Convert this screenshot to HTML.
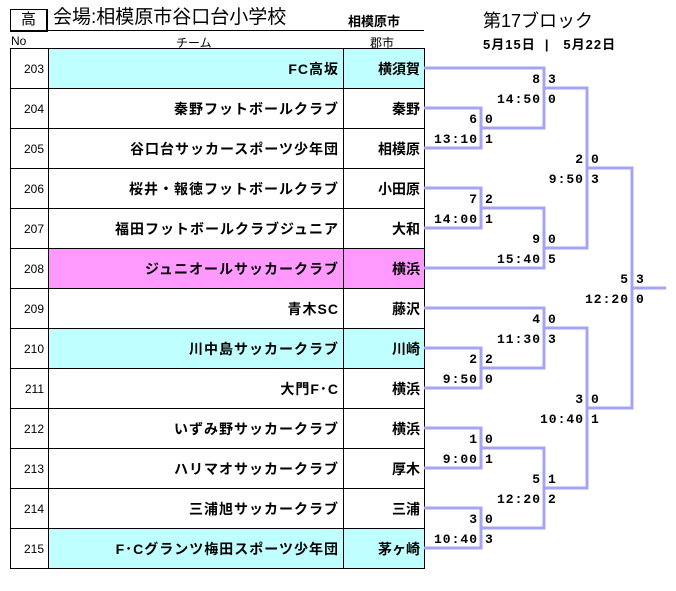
<!DOCTYPE html>
<html><head><meta charset="utf-8"><style>
body{margin:0;width:676px;height:591px;background:#fff;position:relative;overflow:hidden;font-family:"Liberation Sans","Noto Sans CJK JP",sans-serif;color:#000}
.a{position:absolute;white-space:nowrap}
table{position:absolute;left:10px;top:48px;border-collapse:collapse}
td{border:1px solid #000;height:39px;padding:0 4px;font-size:14px}
td.n{width:29px;text-align:right;font-size:12px}
td.t{width:286px;text-align:right;font-weight:bold;letter-spacing:1px}
td.c{width:72px;text-align:right;font-weight:bold}
.cy{background:#c0ffff}.pk{background:#ff99ff}
.s{position:absolute;font:bold 13px "Liberation Mono","Noto Sans CJK JP",monospace;letter-spacing:1px;white-space:nowrap;line-height:14px}
</style></head><body>
<div class="a" style="left:10px;top:9px;width:35px;height:20px;border:1px solid #000;border-width:1px 2px 2px 1px;text-align:center;font-size:15px;line-height:20px">高</div>
<div class="a" style="left:53px;top:7px;font-size:19px;line-height:22px">会場:相模原市谷口台小学校</div>
<div class="a" style="left:348px;top:11px;font-size:13px;font-weight:bold">相模原市</div>
<div class="a" style="left:10px;top:30px;width:414px;height:1px;background:#000"></div>
<div class="a" style="left:483px;top:7px;font-size:18px">第17ブロック</div>
<div class="a" style="left:11px;top:34px;font-size:12px">No</div>
<div class="a" style="left:176px;top:34px;font-size:12px">チーム</div>
<div class="a" style="left:370px;top:34px;font-size:12px">郡市</div>
<div class="a" style="left:483px;top:34px;font-size:13px;font-weight:bold;letter-spacing:1px">5月15日 &nbsp;|&nbsp;&nbsp; 5月22日</div>
<table>
<tr><td class="n">203</td><td class="t cy">FC高坂</td><td class="c cy">横須賀</td></tr>
<tr><td class="n">204</td><td class="t">秦野フットボールクラブ</td><td class="c">秦野</td></tr>
<tr><td class="n">205</td><td class="t">谷口台サッカースポーツ少年団</td><td class="c">相模原</td></tr>
<tr><td class="n">206</td><td class="t">桜井・報徳フットボールクラブ</td><td class="c">小田原</td></tr>
<tr><td class="n">207</td><td class="t">福田フットボールクラブジュニア</td><td class="c">大和</td></tr>
<tr><td class="n">208</td><td class="t pk">ジュニオールサッカークラブ</td><td class="c pk">横浜</td></tr>
<tr><td class="n">209</td><td class="t">青木SC</td><td class="c">藤沢</td></tr>
<tr><td class="n">210</td><td class="t cy">川中島サッカークラブ</td><td class="c cy">川崎</td></tr>
<tr><td class="n">211</td><td class="t">大門F･C</td><td class="c">横浜</td></tr>
<tr><td class="n">212</td><td class="t">いずみ野サッカークラブ</td><td class="c">横浜</td></tr>
<tr><td class="n">213</td><td class="t">ハリマオサッカークラブ</td><td class="c">厚木</td></tr>
<tr><td class="n">214</td><td class="t">三浦旭サッカークラブ</td><td class="c">三浦</td></tr>
<tr><td class="n">215</td><td class="t cy">F･Cグランツ梅田スポーツ少年団</td><td class="c cy">茅ヶ崎</td></tr>
</table>
<svg class="a" style="left:0;top:0" width="676" height="591"><g fill="none" stroke="#a4a4f4" stroke-width="3">
<polyline points="424,68 544,68 544,128 481,128"/>
<polyline points="424,108 481,108 481,148 424,148"/>
<polyline points="424,188 481,188 481,228 424,228"/>
<polyline points="481,208 544,208 544,268 424,268"/>
<polyline points="544,88 587,88 587,248 544,248"/>
<polyline points="424,308 544,308 544,368 481,368"/>
<polyline points="424,348 481,348 481,388 424,388"/>
<polyline points="424,428 481,428 481,468 424,468"/>
<polyline points="481,448 544,448 544,528 481,528"/>
<polyline points="424,508 481,508 481,548 424,548"/>
<polyline points="544,328 587,328 587,488 544,488"/>
<polyline points="587,168 632,168 632,408 587,408"/>
<line x1="632" y1="288" x2="666" y2="288"/>
</g></svg>
<div id="L"></div>
<script>
var d=[[481,128,"6","13:10","0","1"],[544,88,"8","14:50","3","0"],[481,208,"7","14:00","2","1"],[544,248,"9","15:40","0","5"],[587,168,"2","9:50","0","3"],[481,368,"2","9:50","2","0"],[544,328,"4","11:30","0","3"],[481,448,"1","9:00","0","1"],[481,528,"3","10:40","0","3"],[544,488,"5","12:20","1","2"],[587,408,"3","10:40","0","1"],[632,288,"5","12:20","3","0"]];
var h="";d.forEach(function(m){var x=m[0],y=m[1];
h+='<div class="s" style="right:'+(676-x+3)+'px;top:'+(y-15)+'px">'+m[2]+'</div>';
h+='<div class="s" style="right:'+(676-x+3)+'px;top:'+(y+5)+'px">'+m[3]+'</div>';
h+='<div class="s" style="left:'+(x+4)+'px;top:'+(y-15)+'px">'+m[4]+'</div>';
h+='<div class="s" style="left:'+(x+4)+'px;top:'+(y+5)+'px">'+m[5]+'</div>';});
document.getElementById("L").innerHTML=h;
</script>
</body></html>
